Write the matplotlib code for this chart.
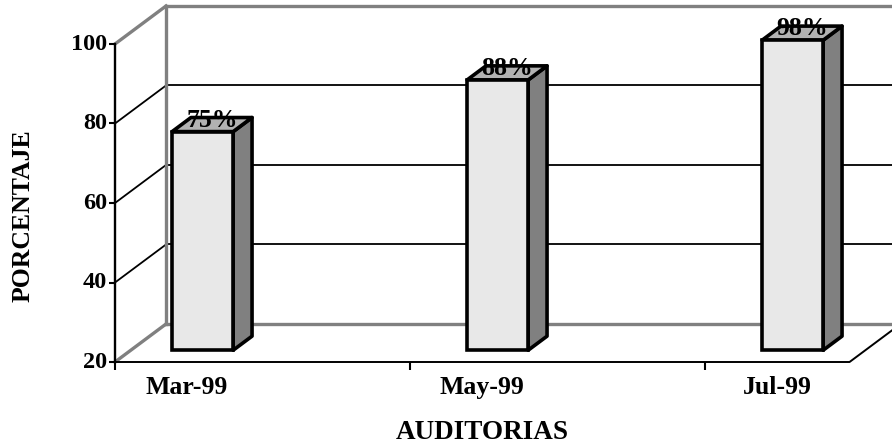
import numpy as np
import matplotlib.pyplot as plt
from matplotlib.patches import Polygon

# -----------------------------
# Data
# -----------------------------
categories = ['Mar-99', 'May-99', 'Jul-99']
values = [75, 88, 98]
value_labels = ['75%', '88%', '98%']
yticks = [20, 40, 60, 80, 100]

# -----------------------------
# Fake 3D geometry (pixel scale of the reference)
# -----------------------------
W, H = 892, 448
PX_CAT = 295.0          # pixels per category
PX_VAL = 3.975          # pixels per percentage point
X_ORIG, Y_ORIG = 115, 362   # pixel of (0, 20)
DX = 51 / PX_CAT        # depth offset of back wall (category units)
DY = 38 / PX_VAL        # depth offset of back wall (value units)
F1, F2 = 0.31, 0.68     # bar front / back depth fraction
BAR_OFF, BAR_W = 0.14, 0.207
FLOOR_END = 2.49
YMIN, YMAX = 20, 100

GRAY = '#808080'
font = dict(family='Liberation Serif', weight='bold')

fig = plt.figure(figsize=(W / 100, H / 100), dpi=100)
ax = fig.add_axes([0, 0, 1, 1])
ax.set_xlim(-X_ORIG / PX_CAT, (W - X_ORIG) / PX_CAT)
ax.set_ylim(YMIN - (H - Y_ORIG) / PX_VAL, YMIN + Y_ORIG / PX_VAL)
ax.axis('off')
xr_lim = ax.get_xlim()[1] + 0.1

# back wall gridlines and side wall diagonals
for v in yticks:
    wall = v in (YMIN, YMAX)
    c = GRAY if wall else 'black'
    lw = 2.4 if wall else 1.3
    ax.plot([DX, xr_lim], [v + DY, v + DY], color=c, lw=lw, zorder=1)
    ax.plot([0, DX], [v, v + DY], color=c, lw=lw, zorder=1)
ax.plot([DX, DX], [YMIN + DY, YMAX + DY], color=GRAY, lw=2.4, zorder=1)

# floor front edge + right edge
ax.plot([0, FLOOR_END, FLOOR_END + DX], [YMIN, YMIN, YMIN + DY],
        color='black', lw=1.4, zorder=2)

# front value axis
ax.plot([0, 0], [YMIN, YMAX], color='black', lw=1.7, zorder=2)
ax.hlines(yticks, -6 / PX_CAT, 0, color='black', lw=1.5, zorder=2)
ax.vlines(range(len(categories)), YMIN - 8 / PX_VAL, YMIN, color='black', lw=1.5, zorder=2)

for v in yticks:
    ax.text(-8 / PX_CAT, v, str(v), ha='right', va='center', fontsize=17.5, **font)

# bars
x = np.arange(len(categories)) + BAR_OFF
a, b = F1 * DY, F2 * DY
d = (F2 - F1) * DX
ax.bar(x + F1 * DX, np.array(values) - YMIN, bottom=YMIN + a, width=BAR_W,
       align='edge', color='#e8e8e8', edgecolor='black', lw=2.6, zorder=4)
for xi, v in zip(x, values):
    xl = xi + F1 * DX
    xr = xl + BAR_W
    side = Polygon([(xr, YMIN + a), (xr, v + a), (xr + d, v + b), (xr + d, YMIN + b)],
                   closed=True, fc=GRAY, ec='black', lw=2.6, zorder=3, joinstyle='round')
    top = Polygon([(xl, v + a), (xr, v + a), (xr + d, v + b), (xl + d, v + b)],
                  closed=True, fc='#b2b2b2', ec='black', lw=2.6, zorder=3, joinstyle='round')
    ax.add_patch(side)
    ax.add_patch(top)

# value labels
for xi, v, lab in zip(x, values, value_labels):
    cx = xi + BAR_W / 2 + (F1 + F2) / 2 * DX
    ax.text(cx, v + (F1 + F2) / 2 * DY - 0.5, lab, ha='center', va='baseline',
            fontsize=18.5, zorder=6, **font)

# category labels
for i, c in enumerate(categories):
    ax.text(i + BAR_OFF + BAR_W / 2, YMIN - 14 / PX_VAL, c, ha='center', va='top',
            fontsize=18.5, **font)

# axis titles
ax.text(-92 / PX_CAT, YMIN + (Y_ORIG - 216) / PX_VAL, 'PORCENTAJE', rotation=90,
        ha='center', va='center', fontsize=18.5, **font)
ax.text((482 - X_ORIG) / PX_CAT, YMIN - (432 - Y_ORIG) / PX_VAL, 'AUDITORIAS',
        ha='center', va='center', fontsize=19.5, **font)

fig.savefig('out.png', dpi=100)
